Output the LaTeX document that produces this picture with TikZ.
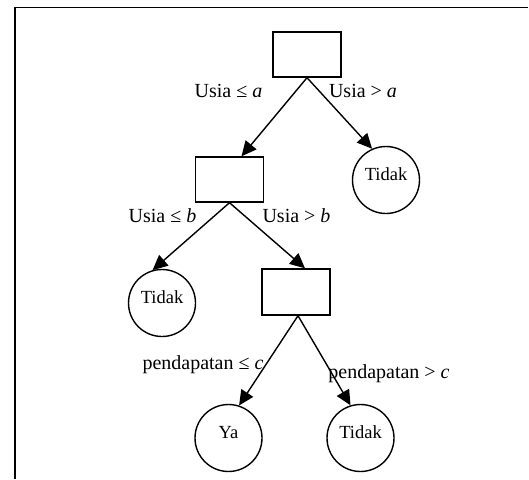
\documentclass[tikz,border=0pt]{standalone}
\usepackage{fontspec}
\setmainfont{Liberation Serif}
\usetikzlibrary{arrows.meta}
\tikzset{
  test/.style={draw, line width=1.4pt, rectangle, minimum width=68pt, minimum height=45pt, inner sep=0pt},
  leaf/.style={draw, line width=1.4pt, circle, minimum size=67pt, inner sep=0pt, font=\fontsize{18.5}{21}\selectfont, text depth=12pt},
  lbl/.style={font=\fontsize{20}{24}\selectfont, inner sep=0pt, anchor=base},
  edge/.style={line width=1.4pt, -{Triangle[length=15pt,width=14pt]}},
  frame/.style={line width=1.6pt}
}
\begin{document}
\begin{tikzpicture}[x=1pt,y=-1pt]
\useasboundingbox (0,0) rectangle (529,479);
\coordinate (fb) at (15,479);
\coordinate (ftl) at (15,7.5);
\coordinate (ftr) at (528,7.5);
\draw[frame] (fb) -- (ftl) -- (ftr);

\node[test] (root) at (307,54.5) {};
\node[test] (n2) at (229.5,179.5) {};
\node[leaf] (t1) at (386,180) {Tidak};
\node[leaf] (t2) at (162,303) {Tidak};
\node[test, minimum height=46pt] (n3) at (296,292) {};
\node[leaf] (ya) at (228.5,438) {Ya};
\node[leaf] (t3) at (360.5,438) {Tidak};

\draw[edge] (root.south) -- ([xshift=12pt]n2.north);
\draw[edge] (root.south) -- (t1.114);
\draw[edge] (n2.south) -- (t2.106);
\draw[edge] (n2.south) -- ([xshift=9pt]n3.north);
\draw[edge] ([xshift=2pt]n3.south) -- (ya.72);
\draw[edge] ([xshift=2pt]n3.south) -- (t3.107);

\node[lbl] (la) at (228.5,97) {Usia ≤ \textit{a}};
\node[lbl] (ra) at (363,97) {Usia > \textit{a}};
\node[lbl] (lb) at (162.5,222) {Usia ≤ \textit{b}};
\node[lbl] (rb) at (296.5,222) {Usia > \textit{b}};
\node[lbl] (lc) at (203,369) {pendapatan ≤ \textit{c}};
\node[lbl] (rc) at (389,378) {pendapatan > \textit{c}};
\end{tikzpicture}
\end{document}
